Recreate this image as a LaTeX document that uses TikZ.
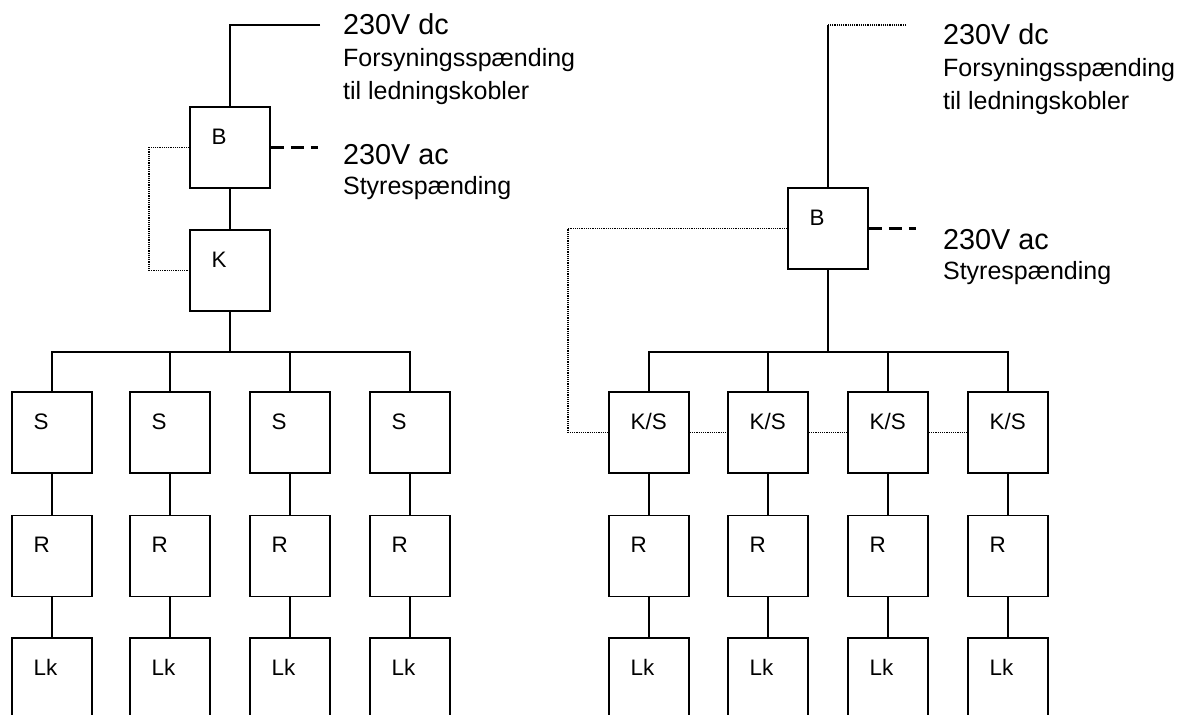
\documentclass[tikz,border=0pt]{standalone}
\usepackage{fontspec}
\setmainfont{Liberation Sans}
\usetikzlibrary{positioning}

\tikzset{
  blok/.style={draw, line width=0.8pt, minimum width=40pt, minimum height=40.5pt, inner sep=0pt},
  bloktxt/.style={anchor=base west, inner sep=0pt, xshift=11pt, yshift=-19pt, font=\fontsize{11.2}{13}\selectfont},
  wire/.style={line width=0.8pt},
  ctrl/.style={line width=0.8pt, dash pattern=on 0.6pt off 0.5pt},
  acwire/.style={line width=1.4pt, dash pattern=on 6.5pt off 3.5pt},
  bigtxt/.style={anchor=base west, inner sep=0pt, font=\fontsize{14.4}{17}\selectfont},
  smalltxt/.style={anchor=base west, inner sep=0pt, font=\fontsize{12.5}{15}\selectfont}
}

\begin{document}
\begin{tikzpicture}[x=0.5pt, y=-0.5pt]
\useasboundingbox (0,0) rectangle (1191,715);
\clip (0,0) rectangle (1191,715);

% venstre opbygning
\coordinate (topL) at (230,25);
\coordinate (dcL) at (320,25);
\coordinate (acL) at (318,147.5);
\coordinate (busL) at (230,352);
\node[blok, label={[bloktxt, name=bLt]north west:B}] (bL) at (230,147.5) {};
\node[blok, label={[bloktxt, name=kLt]north west:K}] (kL) at (230,270.5) {};

\node[bigtxt] (dcL1) at (342.7,35) {230V dc};
\node[smalltxt] (dcL2) at (342.7,66.7) {Forsyningsspænding};
\node[smalltxt] (dcL3) at (342.7,100) {til ledningskobler};
\node[bigtxt] (acL1) at (342.7,164.3) {230V ac};
\node[smalltxt] (acL2) at (342.7,195) {Styrespænding};

\def\xcol{52}
  \node[blok, label={[bloktxt, name=sL1t]north west:S}] (sL1) at (\xcol,432.5) {};
  \node[blok, label={[bloktxt, name=rL1t]north west:R}] (rL1) at (\xcol,556) {};
  \node[blok, label={[bloktxt, name=lkL1t]north west:Lk}] (lkL1) at (\xcol,678.5) {};
  \draw[wire] (sL1) -- (rL1) -- (lkL1);
\def\xcol{170}
  \node[blok, label={[bloktxt, name=sL2t]north west:S}] (sL2) at (\xcol,432.5) {};
  \node[blok, label={[bloktxt, name=rL2t]north west:R}] (rL2) at (\xcol,556) {};
  \node[blok, label={[bloktxt, name=lkL2t]north west:Lk}] (lkL2) at (\xcol,678.5) {};
  \draw[wire] (sL2) -- (rL2) -- (lkL2);
\def\xcol{290}
  \node[blok, label={[bloktxt, name=sL3t]north west:S}] (sL3) at (\xcol,432.5) {};
  \node[blok, label={[bloktxt, name=rL3t]north west:R}] (rL3) at (\xcol,556) {};
  \node[blok, label={[bloktxt, name=lkL3t]north west:Lk}] (lkL3) at (\xcol,678.5) {};
  \draw[wire] (sL3) -- (rL3) -- (lkL3);
\def\xcol{410}
  \node[blok, label={[bloktxt, name=sL4t]north west:S}] (sL4) at (\xcol,432.5) {};
  \node[blok, label={[bloktxt, name=rL4t]north west:R}] (rL4) at (\xcol,556) {};
  \node[blok, label={[bloktxt, name=lkL4t]north west:Lk}] (lkL4) at (\xcol,678.5) {};
  \draw[wire] (sL4) -- (rL4) -- (lkL4);

\draw[wire] (dcL) -- (topL) -- (bL.north);
\draw[wire] (bL.south) -- (kL.north);
\draw[wire] (kL.south) -- (busL);
\draw[wire] (sL1.north) |- (busL) -| (sL4.north);
\draw[wire] (sL2.north) -- (sL2.north |- busL);
\draw[wire] (sL3.north) -- (sL3.north |- busL);
\draw[acwire] (bL.east) -- (acL);
\draw[ctrl] (bL.west) -- ++(-40,0) |- (kL.west);

% hoejre opbygning
\coordinate (topR) at (828,25);
\coordinate (dcR) at (906,25);
\coordinate (acR) at (916,228.5);
\coordinate (busR) at (828,352);
\node[blok, label={[bloktxt, name=bRt]north west:B}] (bR) at (828,228.5) {};

\node[bigtxt] (dcR1) at (942.7,44.3) {230V dc};
\node[smalltxt] (dcR2) at (942.7,76.7) {Forsyningsspænding};
\node[smalltxt] (dcR3) at (942.7,109.3) {til ledningskobler};
\node[bigtxt] (acR1) at (942.7,249.3) {230V ac};
\node[smalltxt] (acR2) at (942.7,280) {Styrespænding};

\def\xcol{649}
  \node[blok, label={[bloktxt, name=ks1t]north west:K/S}] (ks1) at (\xcol,432.5) {};
  \node[blok, label={[bloktxt, name=rR1t]north west:R}] (rR1) at (\xcol,556) {};
  \node[blok, label={[bloktxt, name=lkR1t]north west:Lk}] (lkR1) at (\xcol,678.5) {};
  \draw[wire] (ks1) -- (rR1) -- (lkR1);
\def\xcol{768}
  \node[blok, label={[bloktxt, name=ks2t]north west:K/S}] (ks2) at (\xcol,432.5) {};
  \node[blok, label={[bloktxt, name=rR2t]north west:R}] (rR2) at (\xcol,556) {};
  \node[blok, label={[bloktxt, name=lkR2t]north west:Lk}] (lkR2) at (\xcol,678.5) {};
  \draw[wire] (ks2) -- (rR2) -- (lkR2);
\def\xcol{888}
  \node[blok, label={[bloktxt, name=ks3t]north west:K/S}] (ks3) at (\xcol,432.5) {};
  \node[blok, label={[bloktxt, name=rR3t]north west:R}] (rR3) at (\xcol,556) {};
  \node[blok, label={[bloktxt, name=lkR3t]north west:Lk}] (lkR3) at (\xcol,678.5) {};
  \draw[wire] (ks3) -- (rR3) -- (lkR3);
\def\xcol{1008}
  \node[blok, label={[bloktxt, name=ks4t]north west:K/S}] (ks4) at (\xcol,432.5) {};
  \node[blok, label={[bloktxt, name=rR4t]north west:R}] (rR4) at (\xcol,556) {};
  \node[blok, label={[bloktxt, name=lkR4t]north west:Lk}] (lkR4) at (\xcol,678.5) {};
  \draw[wire] (ks4) -- (rR4) -- (lkR4);

\draw[ctrl] (dcR) -- (topR);
\draw[wire] (topR) -- (bR.north);
\draw[wire] (bR.south) -- (busR);
\draw[wire] (ks1.north) |- (busR) -| (ks4.north);
\draw[wire] (ks2.north) -- (ks2.north |- busR);
\draw[wire] (ks3.north) -- (ks3.north |- busR);
\draw[acwire] (bR.east) -- (acR);
\draw[ctrl] (bR.west) -| ([xshift=-20pt]ks1.west) -- (ks1.west);
\draw[ctrl] (ks1) -- (ks2);
\draw[ctrl] (ks2) -- (ks3);
\draw[ctrl] (ks3) -- (ks4);
\end{tikzpicture}
\end{document}
